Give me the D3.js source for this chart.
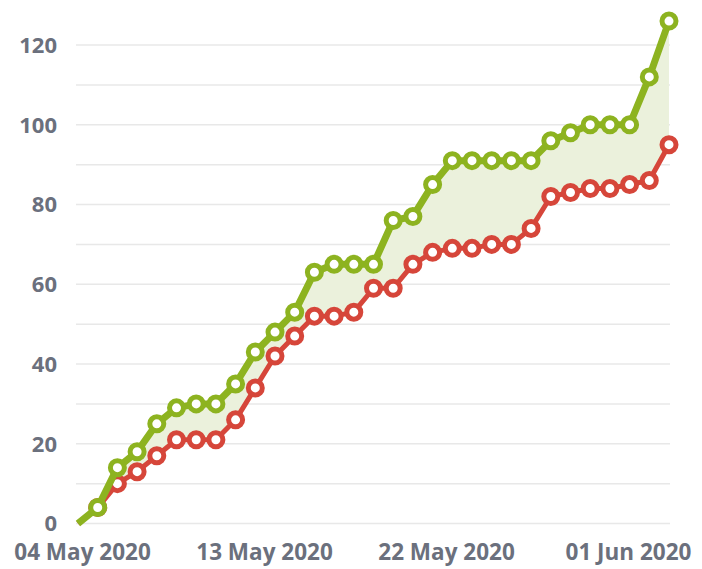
<!DOCTYPE html>
<html>
<head>
<meta charset="utf-8">
<script src="https://cdn.jsdelivr.net/npm/d3@7"></script>
<style>
  html, body { margin: 0; padding: 0; background: #fff; }
  svg { display: block; }
  .tick text { font-family: "Open Sans", sans-serif; font-weight: 700; fill: #6b707d; }
</style>
</head>
<body>
<svg id="chart" width="702" height="569"></svg>
<script>
// ---- data ----
const startDate = "2020-05-04";
const dayCount = 31;
const greenValues = [0, 4, 14, 18, 25, 29, 30, 30, 35, 43, 48, 53, 63, 65, 65, 65, 76, 77, 85, 91, 91, 91, 91, 91, 96, 98, 100, 100, 100, 112, 126];
const redValues   = [0, 4, 10, 13, 17, 21, 21, 21, 26, 34, 42, 47, 52, 52, 53, 59, 59, 65, 68, 69, 69, 70, 70, 74, 82, 83, 84, 84, 85, 86, 95];
const xTickLabels = ["04 May 2020", "13 May 2020", "22 May 2020", "01 Jun 2020"];
const yTicks = [0, 20, 40, 60, 80, 100, 120];
const gridValues = [0, 10, 20, 30, 40, 50, 60, 70, 80, 90, 100, 110, 120];

// ---- setup ----
const parse = d3.timeParse("%Y-%m-%d");
const d0 = parse(startDate);
const dates = d3.range(dayCount).map(i => d3.timeDay.offset(d0, i));
const data = dates.map((d, i) => ({ date: d, g: greenValues[i], r: redValues[i], i }));

const svg = d3.select("#chart");
const x = d3.scaleTime().domain([dates[0], dates[dates.length - 1]]).range([78, 669]);
const y = d3.scaleLinear().domain([0, 120]).range([523.5, 45]);

const green = "#8db320", red = "#d6463a", fillC = "#ebf1dc";

// gridlines
svg.append("g").selectAll("line").data(gridValues).join("line")
  .attr("x1", 76).attr("x2", 670)
  .attr("y1", d => y(d)).attr("y2", d => y(d))
  .attr("stroke", "#e8e8e8").attr("stroke-width", 1.5);

// y axis
const yAxis = svg.append("g").attr("transform", "translate(57,0)")
  .call(d3.axisLeft(y).tickValues(yTicks).tickSize(0).tickPadding(0));
yAxis.select(".domain").remove();
yAxis.selectAll("text").style("font-size", "22px").attr("dy", "0.34em");

// x axis labels (evenly spaced label slots)
const xl = d3.scalePoint().domain(xTickLabels).range([82, 628]);
const xAxis = svg.append("g").attr("transform", "translate(0,560)")
  .call(d3.axisBottom(xl).tickSize(0).tickPadding(0));
xAxis.select(".domain").remove();
xAxis.selectAll("text").style("font-size", "22.5px").attr("dy", "0");

// area between
const area = d3.area().x(d => x(d.date)).y0(d => y(d.r)).y1(d => y(d.g));
svg.append("path").datum(data).attr("d", area).attr("fill", fillC);

const lineG = d3.line().x(d => x(d.date)).y(d => y(d.g));
const lineR = d3.line().x(d => x(d.date)).y(d => y(d.r));

// red series
svg.append("path").datum(data).attr("d", lineR)
  .attr("fill", "none").attr("stroke", red).attr("stroke-width", 5).attr("stroke-linejoin", "round");
svg.append("g").selectAll("circle").data(data.filter(d => d.i > 0)).join("circle")
  .attr("cx", d => x(d.date)).attr("cy", d => y(d.r)).attr("r", 7)
  .attr("fill", "#fff").attr("stroke", red).attr("stroke-width", 5);

// green series
svg.append("path").datum(data).attr("d", lineG)
  .attr("fill", "none").attr("stroke", green).attr("stroke-width", 7).attr("stroke-linejoin", "round");
svg.append("g").selectAll("circle").data(data.filter(d => d.i > 0)).join("circle")
  .attr("cx", d => x(d.date)).attr("cy", d => y(d.g)).attr("r", 7)
  .attr("fill", "#fff").attr("stroke", green).attr("stroke-width", 5);
</script>
</body>
</html>
